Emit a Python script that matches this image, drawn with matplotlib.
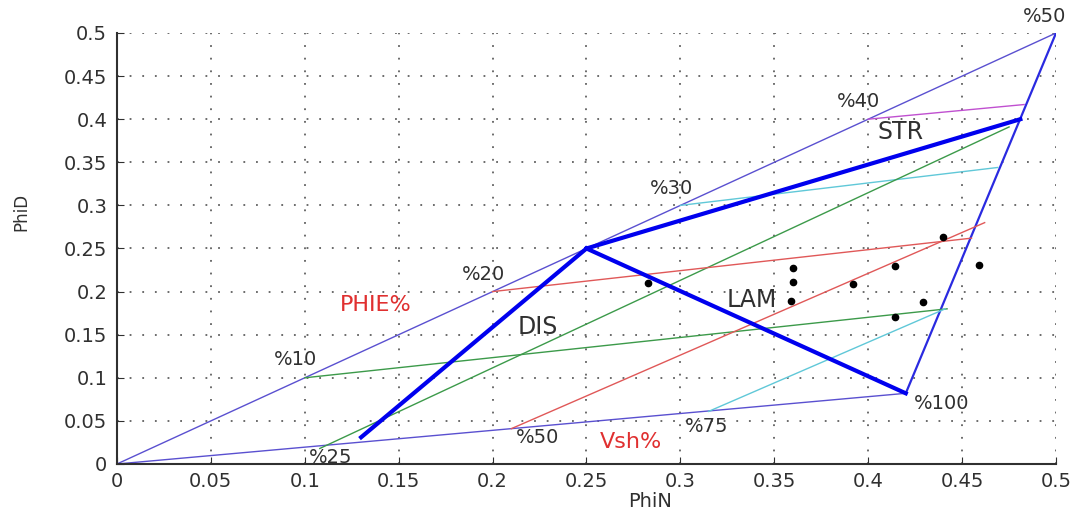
import numpy as np
import matplotlib
matplotlib.use('Agg')
import matplotlib.pyplot as plt

plt.rcParams['font.family'] = ['DejaVu Sans']

# Modellpunkte (PhiN, PhiD)
sand = (0.25, 0.25)
shale = (0.42, 0.082)
str_end = (0.481, 0.40)
dis_end = (0.13, 0.031)

# Rahmenlinien
diag_x = [0, 0.5]
diag_y = [0, 0.5]
shale_x = [0, 0.42]
shale_y = [0, 0.082]
right_x = [0.42, 0.5]
right_y = [0.082, 0.5]

# duenne Hilfslinien: (x0, y0, x1, y1, farbe)
thin_lines = [
    (0.40, 0.40, 0.483, 0.417, '#c050d0'),
    (0.30, 0.30, 0.469, 0.344, '#60c8d8'),
    (0.108, 0.018, 0.475, 0.391, '#3c9a4a'),
    (0.10, 0.10, 0.442, 0.180, '#3c9a4a'),
    (0.20, 0.20, 0.455, 0.262, '#e05858'),
    (0.21, 0.041, 0.462, 0.280, '#e05858'),
    (0.315, 0.061, 0.441, 0.180, '#60c8d8'),
]

# Messpunkte
pts_x = [0.283, 0.360, 0.360, 0.359, 0.392, 0.414, 0.414, 0.429, 0.440, 0.459]
pts_y = [0.210, 0.227, 0.211, 0.189, 0.209, 0.230, 0.170, 0.188, 0.263, 0.231]

# Beschriftungen
pct_labels = [
    ('%50', 0.494, 0.519), ('%40', 0.395, 0.420), ('%30', 0.2955, 0.320),
    ('%20', 0.195, 0.220), ('%10', 0.095, 0.121), ('%100', 0.439, 0.070),
    ('%75', 0.314, 0.044), ('%50', 0.224, 0.031), ('%25', 0.114, 0.007),
]

fig = plt.figure(figsize=(10.81, 5.14), dpi=100)
ax = fig.add_axes([0.1082, 0.0973, 0.8687, 0.8385])

ax.plot(diag_x, diag_y, color='#5a50d0', lw=1.0)
ax.plot(shale_x, shale_y, color='#5a50d0', lw=1.0)
ax.plot(right_x, right_y, color='#2a2ae0', lw=1.6)

for x0, y0, x1, y1, c in thin_lines:
    ax.plot([x0, x1], [y0, y1], color=c, lw=1.0)

# STR, DIS, LAM
ax.plot([sand[0], str_end[0]], [sand[1], str_end[1]], color='#0000ee', lw=3)
ax.plot([sand[0], dis_end[0]], [sand[1], dis_end[1]], color='#0000ee', lw=3)
ax.plot([sand[0], shale[0]], [sand[1], shale[1]], color='#0000ee', lw=3)

ax.plot(pts_x, pts_y, 'o', color='black', ms=4.5)

for s, x, y in pct_labels:
    ax.text(x, y, s, fontsize=14, color='#303030', ha='center', va='center', clip_on=False)

ax.text(0.417, 0.385, 'STR', fontsize=17, color='#303030', ha='center', va='center')
ax.text(0.224, 0.159, 'DIS', fontsize=17, color='#303030', ha='center', va='center')
ax.text(0.338, 0.190, 'LAM', fontsize=17, color='#303030', ha='center', va='center')
ax.text(0.138, 0.184, 'PHIE%', fontsize=16, color='#e03030', ha='center', va='center')
ax.text(0.2735, 0.0255, 'Vsh%', fontsize=16, color='#e03030', ha='center', va='center')

ax.set_xlim(0, 0.5)
ax.set_ylim(0, 0.5)
ax.set_xticks(np.arange(0, 0.51, 0.05))
ax.set_yticks(np.arange(0, 0.51, 0.05))
ax.set_xticklabels(['0', '0.05', '0.1', '0.15', '0.2', '0.25', '0.3', '0.35', '0.4', '0.45', '0.5'])
ax.set_yticklabels(['0', '0.05', '0.1', '0.15', '0.2', '0.25', '0.3', '0.35', '0.4', '0.45', '0.5'])
ax.tick_params(direction='in', length=5, labelsize=14, labelcolor='#303030', color='#303030')
ax.tick_params(axis='x', pad=6)
ax.tick_params(axis='y', pad=7)
ax.grid(True, linestyle=(0, (1, 6)), color='#606060', lw=1.3)
ax.spines['top'].set_visible(False)
ax.spines['right'].set_visible(False)
ax.spines['left'].set_color('#303030')
ax.spines['bottom'].set_color('#303030')
ax.spines['left'].set_linewidth(1.5)
ax.spines['bottom'].set_linewidth(1.5)

ax.set_xlabel('PhiN', fontsize=14, color='#303030', va='center')
ax.set_ylabel('PhiD', fontsize=12, color='#303030', va='center')
ax.xaxis.set_label_coords(0.568, -0.087)
ax.yaxis.set_label_coords(-0.102, 0.585)

plt.savefig('out.png', dpi=100)
